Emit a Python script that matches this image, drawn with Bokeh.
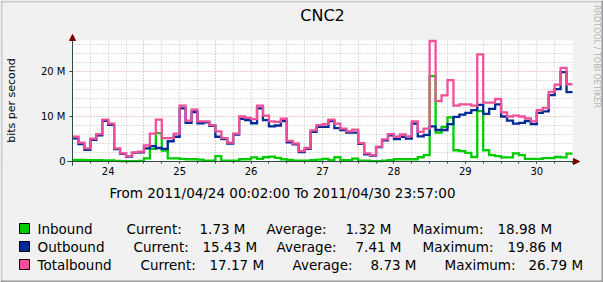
import math
from bokeh.plotting import figure
from bokeh.models import Range1d, FixedTicker, BoxAnnotation, Arrow, NormalHead
from bokeh.core.properties import value
from bokeh.embed import file_html
from bokeh.resources import INLINE

# ---------------- data (Mbit/s, 2-hour steps from 2011/04/24 00:00) ----------------
title_text = "CNC2"
y_axis_label = "bits per second"
watermark = "RRDTOOL / TOBI OETIKER"
period_text = "From 2011/04/24 00:02:00 To 2011/04/30 23:57:00"
day_labels = ["24", "25", "26", "27", "28", "29", "30"]
y_tick_values = [0, 10, 20]
y_tick_labels = ["0", "10 M", "20 M"]

inbound = [0.35, 0.35, 0.3, 0.3, 0.3, 0.25, 0.25, 0.15, 0.1, 0.1,
           0.1, 0.15, 0.7, 2.8, 6.3, 2.4, 0.7, 0.7, 0.6, 0.5,
           0.5, 0.4, 0.2, 0.2, 1.2, 0.2, 0.2, 0.2, 0.5, 0.5,
           0.9, 0.6, 0.95, 1.1, 0.8, 0.5, 0.35, 0.2, 0.2, 0.2,
           0.3, 0.4, 0.6, 0.3, 0.95, 0.3, 0.3, 0.65, 0.2, 0.2,
           0.1, 0.1, 0.2, 0.3, 0.5, 0.5, 0.5, 0.5, 0.95, 1.4,
           18.98, 6.4, 7.7, 9.8, 2.5, 2.3, 1.9, 1.0, 11.2, 2.5,
           1.4, 1.2, 0.9, 0.9, 1.8, 1.4, 0.6, 0.6, 0.6, 0.75,
           0.75, 1.0, 0.9, 1.73]

outbound = [5.15, 3.85, 2.6, 4.8, 5.8, 9.05, 8.15, 2.75, 1.7, 1.1,
            1.9, 2.05, 2.9, 3.4, 3.0, 2.8, 4.5, 5.5, 11.8, 8.6,
            11.0, 8.5, 8.7, 7.9, 5.5, 5.0, 4.0, 6.0, 9.5, 9.2,
            8.5, 11.8, 9.2, 7.8, 8.0, 9.0, 4.25, 3.8, 2.1, 2.8,
            6.6, 7.7, 7.7, 9.0, 7.4, 7.0, 6.4, 6.4, 3.9, 1.6,
            1.3, 3.2, 4.7, 5.8, 5.0, 5.5, 5.1, 8.4, 5.6, 5.9,
            7.8, 7.0, 7.0, 8.3, 9.9, 10.4, 10.8, 11.4, 12.6, 10.6,
            11.7, 12.7, 10.0, 9.1, 8.4, 8.6, 9.0, 8.3, 10.8, 11.15,
            14.75, 16.1, 19.86, 15.43]

totalbound = [5.5, 4.2, 2.9, 5.1, 6.1, 9.3, 8.4, 2.9, 1.8, 1.2,
              2.0, 2.2, 3.6, 6.2, 9.3, 5.2, 5.2, 6.2, 12.4, 9.1,
              11.5, 8.9, 8.9, 8.1, 6.7, 5.2, 4.2, 6.2, 10.0, 9.7,
              9.4, 12.4, 10.2, 8.9, 8.8, 9.5, 4.6, 4.0, 2.3, 3.0,
              6.9, 8.1, 8.3, 9.3, 8.4, 7.3, 6.7, 7.1, 4.1, 1.8,
              1.4, 3.3, 4.9, 6.1, 5.5, 6.0, 5.6, 8.9, 6.6, 7.3,
              26.79, 13.4, 14.7, 18.1, 12.4, 12.7, 12.7, 12.4, 23.8, 13.1,
              13.1, 13.9, 10.9, 10.0, 10.2, 10.0, 9.6, 8.9, 11.4, 11.9,
              15.5, 17.1, 20.8, 17.17]

series_names = ["Inbound", "Outbound", "Totalbound"]
series_colors = ["#00CC00", "#002A97", "#F0509A"]
current_vals = ["1.73 M", "15.43 M", "17.17 M"]
average_vals = ["1.32 M", "7.41 M", "8.73 M"]
maximum_vals = ["18.98 M", "19.86 M", "26.79 M"]

# ---------------- layout constants (image pixels) ----------------
W, H = 603, 282
L, R, T, B = 72, 572, 40, 161          # rrdtool canvas
STEP_H = 2
HOURS = 7 * 24
YMAX = 26.9
FONT = "DejaVu Sans"
BACK = "#F1F1F1"
GRID = "#BEBEBE"
MGRID = "#DE9494"
AXIS = "#2C4D43"
ARROW = "#7F0000"

hpx = HOURS / (R - L)     # hours per pixel
ypx = YMAX / (B - T)      # Mbit/s per pixel


def dx(px):
    return (px - L) * hpx


def dy(py):
    return (B - py) * ypx


# frame covers the whole image; the scales map hours / Mbit/s onto the rrd canvas
p = figure(width=W, height=H, output_backend="svg", toolbar_location=None,
           x_range=Range1d(dx(0), dx(W)), y_range=Range1d(dy(H), dy(0)),
           min_border=0, min_border_left=0, min_border_right=0,
           min_border_top=0, min_border_bottom=0,
           background_fill_color="#FFFFFF", border_fill_color=BACK,
           outline_line_color=None)

# grid
midnights = list(range(0, HOURS, 24))
six_h = [h for h in range(0, HOURS + 1, 6) if h % 24 != 0]
p.xgrid.ticker = FixedTicker(ticks=midnights, minor_ticks=six_h)
p.xgrid.grid_line_color = MGRID
p.xgrid.grid_line_dash = "1 2"
p.xgrid.minor_grid_line_color = GRID
p.xgrid.minor_grid_line_dash = "1 2"
p.ygrid.ticker = FixedTicker(ticks=y_tick_values,
                             minor_ticks=[v for v in range(2, 27, 2) if v % 10 != 0])
p.ygrid.grid_line_color = MGRID
p.ygrid.grid_line_dash = "1 2"
p.ygrid.minor_grid_line_color = GRID
p.ygrid.minor_grid_line_dash = "1 2"

# grey surround (covers the grid outside the rrd canvas)
for kw in (dict(bottom=YMAX), dict(top=0), dict(right=0), dict(left=HOURS)):
    p.add_layout(BoxAnnotation(fill_color=BACK, fill_alpha=1.0, line_alpha=0.0,
                               level="underlay", **kw))

# axes drawn at the data origin
noons = [12 + 24 * i for i in range(len(day_labels))]
p.xaxis.fixed_location = 0
p.yaxis.fixed_location = 0
p.xaxis.bounds = (dx(67), dx(578))
p.yaxis.bounds = (dy(165), dy(35))
p.xaxis.ticker = FixedTicker(ticks=noons, minor_ticks=list(range(0, HOURS + 1, 6)))
p.xaxis.major_label_overrides = {n: lab for n, lab in zip(noons, day_labels)}
p.yaxis.ticker = FixedTicker(ticks=y_tick_values, minor_ticks=[])
p.yaxis.major_label_overrides = {v: lab for v, lab in zip(y_tick_values, y_tick_labels)}
for ax in (p.xaxis[0], p.yaxis[0]):
    ax.axis_line_color = AXIS
    ax.axis_line_width = 1
    ax.major_tick_line_color = AXIS
    ax.minor_tick_line_color = AXIS
    ax.major_tick_in = 0
    ax.minor_tick_in = 0
    ax.major_label_text_font = FONT
    ax.major_label_text_font_size = "10px"
    ax.major_label_text_color = "#000000"
p.xaxis.major_tick_out = 2
p.xaxis.minor_tick_out = 2
p.xaxis.major_label_standoff = 3
p.yaxis.major_tick_out = 3
p.yaxis.minor_tick_out = 0
p.yaxis.major_label_standoff = 4

# data lines (step, 2 hour consolidation)
x_edges = [i * STEP_H for i in range(len(totalbound) + 1)]
for vals, col in zip([inbound, outbound, totalbound], series_colors):
    p.step(x_edges, list(vals) + [vals[-1]], mode="after", line_color=col,
           line_width=2.3, line_join="miter")

# axis arrows
p.add_layout(Arrow(x_start=dx(67), y_start=0, x_end=dx(579), y_end=0,
                   line_color=AXIS, line_width=1,
                   end=NormalHead(size=6, fill_color=ARROW, line_color=ARROW)))
p.add_layout(Arrow(x_start=0, y_start=dy(165), x_end=0, y_end=dy(34),
                   line_color=AXIS, line_width=1,
                   end=NormalHead(size=6, fill_color=ARROW, line_color=ARROW)))


def txt(s, px, py, size, align="left", color="#000000", angle=0.0):
    p.text(x=[dx(px)], y=[dy(py)], text=[s], text_font=value(FONT),
           text_font_size=value(f"{size}px"), text_color=color,
           text_align=align, text_baseline="middle", angle=angle)


def box(x0, y0, x1, y1, fill, line=None):
    p.add_layout(BoxAnnotation(left=dx(x0), right=dx(x1), top=dy(y0), bottom=dy(y1),
                               fill_color=fill, fill_alpha=1.0,
                               line_color=line if line else fill,
                               line_alpha=1.0 if line else 0.0,
                               line_width=1, level="overlay"))


# image border shading
box(0, 0, W, 2, "#CBCBCB")
box(0, 0, 2, H, "#CBCBCB")
box(0, H - 2, W, H, "#999999")
box(W - 2, 0, W, H, "#999999")

# texts
txt(title_text, 322, 15, 16, align="center")
txt(y_axis_label, 11, 100, 11, align="center", angle=math.pi / 2)
txt(watermark, 596, 56, 8, align="center", color="#B4B4B4", angle=-math.pi / 2)
txt(period_text, 282, 192, 13.5, align="center")

rows_y = [228, 246, 264]
col_x = [
    (126, 199, 266, 345, 412, 497),
    (133, 202, 276, 355, 422, 507),
    (140, 209, 292, 370, 444, 528),
]
for i in range(3):
    y = rows_y[i]
    box(19, y - 5, 29, y + 5, series_colors[i], "#000000")
    txt(series_names[i], 37, y, 13.5)
    cxs = col_x[i]
    txt("Current:", cxs[0], y, 13.5)
    txt(current_vals[i], cxs[1], y, 13.5)
    txt("Average:", cxs[2], y, 13.5)
    txt(average_vals[i], cxs[3], y, 13.5)
    txt("Maximum:", cxs[4], y, 13.5)
    txt(maximum_vals[i], cxs[5], y, 13.5)

open("out.html", "w").write(file_html(p, INLINE))
